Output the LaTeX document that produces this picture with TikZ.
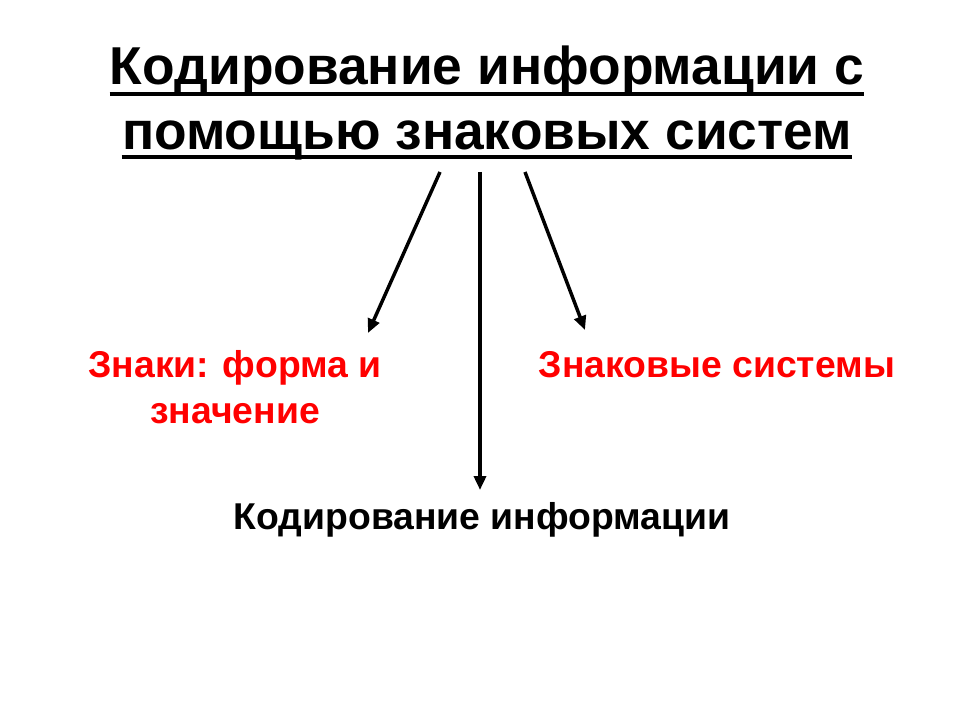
\documentclass[tikz,border=0pt]{standalone}
\usepackage{fontspec}
\setmainfont{Liberation Sans}
\usepackage{xcolor}
\usetikzlibrary{positioning,arrows.meta}

\begin{document}
\begin{tikzpicture}[x=0.75pt, y=-0.75pt,
    ttl/.style={inner sep=0pt, anchor=base, font=\fontsize{40}{48}\selectfont\bfseries},
    sub/.style={anchor=base, inner sep=0pt, font=\fontsize{28}{34.5}\selectfont\bfseries},
    uline/.style={line width=3pt},
    arr/.style={-{Triangle[length=10.5pt,width=9pt]}, line width=2.6pt}]
    \useasboundingbox (0,0) rectangle (960,720);

    % Title
    \node [ttl] (ttl1) at (487,85) {Кодирование информации с};
    \node [ttl] (ttl2) at (487,150) {помощью знаковых систем};
    \draw [uline] ([yshift=-6.75pt]ttl1.base west) -- ([yshift=-6.75pt]ttl1.base east);
    \draw [uline] ([yshift=-5.25pt]ttl2.base west) -- ([yshift=-5.25pt]ttl2.base east);

    % Branches
    \node [sub, text=red, align=center] (signs) at (235,423) {Знаки: форма и\\значение};
    \node [sub, text=red] (systems) at (717,377) {Знаковые системы};
    \node [sub] (coding) at (482,529) {Кодирование информации};

    % Arrow ends
    \coordinate (fromL) at (440,172);
    \coordinate (fromM) at (480,172);
    \coordinate (fromR) at (525,172);
    \coordinate (toL) at (368,333);
    \coordinate (toM) at (480,490);
    \coordinate (toR) at (585,330);

    % Connections
    \draw [arr] (fromL) -- (toL);
    \draw [arr] (fromM) -- (toM);
    \draw [arr] (fromR) -- (toR);
\end{tikzpicture}
\end{document}
